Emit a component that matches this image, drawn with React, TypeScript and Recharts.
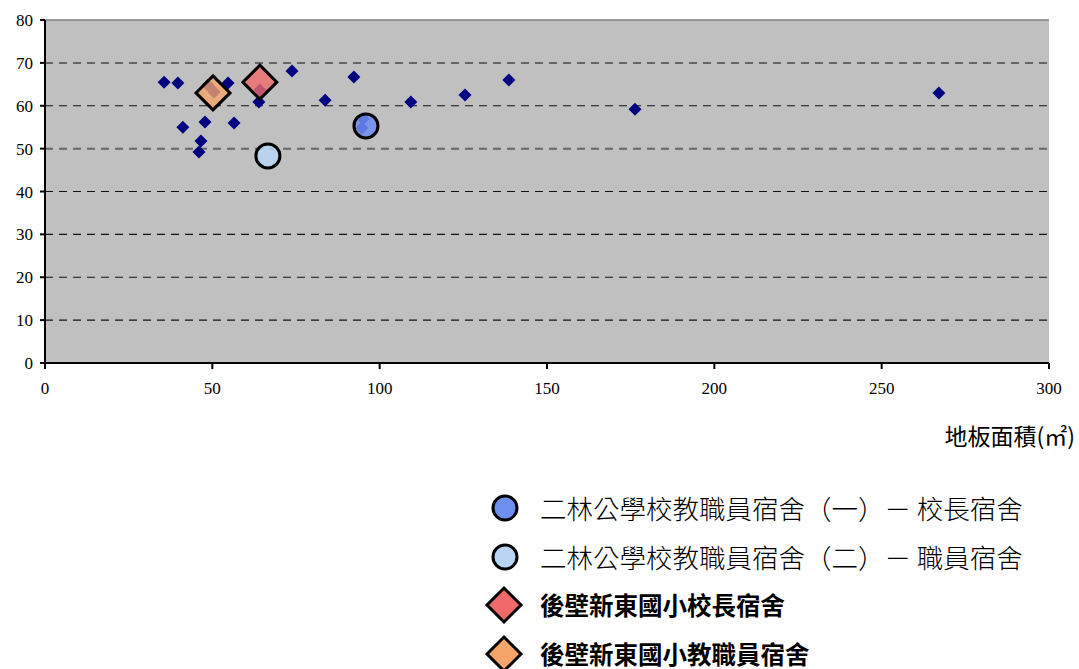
import { ScatterChart, Scatter, XAxis, YAxis, ReferenceLine, ReferenceArea } from 'recharts'

// 其他宿舍樣本 (floor area, value)
const otherArea = [35.6, 39.7, 41.2, 46.0, 46.6, 47.8, 48.7, 50.5, 54.7, 56.5, 63.9, 64.2, 73.8, 83.7, 92.3, 94.7, 95.0, 109.3, 125.5, 138.6, 176.3, 267.1]
const otherValue = [65.5, 65.3, 55.0, 49.2, 51.8, 56.2, 64.8, 63.2, 65.3, 56.0, 60.9, 63.7, 68.1, 61.3, 66.7, 54.8, 56.9, 60.9, 62.5, 66.0, 59.2, 63.0]

const erlin1 = [{ x: 95.9, y: 55.3 }]
const erlin2 = [{ x: 66.6, y: 48.3 }]
const houbiPrincipal = [{ x: 64.2, y: 65.5 }]
const houbiStaff = [{ x: 50.2, y: 63.0 }]

const xTicks = [0, 50, 100, 150, 200, 250, 300]
const yTicks = [0, 10, 20, 30, 40, 50, 60, 70, 80]
const gridValues = [10, 20, 30, 40, 50, 60, 70]

const others = otherArea.map((x, i) => ({ x, y: otherValue[i] }))

const legendItems = [
  { name: '二林公學校教職員宿舍（一）－ 校長宿舍', kind: 'circle', fill: '#6E8EF0', bold: false },
  { name: '二林公學校教職員宿舍（二）－ 職員宿舍', kind: 'circle', fill: '#B8D6F4', bold: false },
  { name: '後壁新東國小校長宿舍', kind: 'diamond', fill: '#F06A6A', bold: true },
  { name: '後壁新東國小教職員宿舍', kind: 'diamond', fill: '#F5A46A', bold: true },
]

const serif = '"Liberation Serif", "DejaVu Serif", serif'
const cjk = '"Noto Sans CJK TC", "Noto Sans CJK SC", sans-serif'

function diamond(cx: number, cy: number, r: number) {
  return `M${cx},${cy - r} L${cx + r},${cy} L${cx},${cy + r} L${cx - r},${cy} Z`
}

const smallDiamond = (p: any) => <path d={diamond(p.cx, p.cy, 6.5)} fill="#000080" />

const bigDiamond = (fill: string) => (p: any) => (
  <path d={diamond(p.cx, p.cy, 17)} fill={fill} fillOpacity={0.8} stroke="#000" strokeWidth={3} strokeLinejoin="miter" />
)

const bigCircle = (fill: string) => (p: any) => (
  <circle cx={p.cx} cy={p.cy} r={12} fill={fill} fillOpacity={0.85} stroke="#000" strokeWidth={3} />
)

function LegendBox() {
  return (
    <div style={{ position: 'absolute', left: 482, top: 484 }}>
      {legendItems.map((item) => (
        <div key={item.name} style={{ display: 'flex', alignItems: 'center', height: 48.5 }}>
          <svg width={44} height={44} style={{ marginRight: 14 }}>
            {item.kind === 'circle' ? (
              <circle cx={23} cy={22} r={12} fill={item.fill} stroke="#000" strokeWidth={3} />
            ) : (
              <path d={diamond(22, 22, 17)} fill={item.fill} stroke="#000" strokeWidth={3} />
            )}
          </svg>
          <span style={{ fontFamily: cjk, fontSize: item.bold ? 24.5 : 26.5, lineHeight: 1, fontWeight: item.bold ? 700 : 300, color: '#000', whiteSpace: 'nowrap' }}>
            {item.name}
          </span>
        </div>
      ))}
    </div>
  )
}

export default function App() {
  return (
    <div style={{ position: 'absolute', left: 0, top: 0, width: 1079, height: 669, background: '#fff', overflow: 'hidden' }}>
      <ScatterChart width={1079} height={669} margin={{ top: 20, right: 30, left: 0, bottom: 0 }}>
        <XAxis
          type="number"
          dataKey="x"
          domain={[0, 300]}
          ticks={xTicks}
          height={306}
          stroke="#000"
          strokeWidth={2}
          tickSize={6}
          tickMargin={13}
          tick={{ fill: '#000', fontSize: 17, fontFamily: serif }}
          label={({ viewBox }: any) => (
            <text x={viewBox.x + viewBox.width + 26} y={viewBox.y + 82} textAnchor="end" fontSize={23} fontFamily={cjk} fill="#000">
              地板面積(㎡)
            </text>
          )}
        />
        <YAxis
          type="number"
          dataKey="y"
          domain={[0, 80]}
          ticks={yTicks}
          width={45}
          stroke="#000"
          strokeWidth={2}
          tickSize={5}
          tickMargin={7}
          tick={{ fill: '#000', fontSize: 17, fontFamily: serif }}
        />
        <ReferenceArea x1={0} x2={300} y1={0} y2={80} fill="#C0C0C0" fillOpacity={1} stroke="none" />
        {gridValues.map((v) => (
          <ReferenceLine key={v} y={v} stroke={v === 50 || v === 70 ? '#666' : '#111'} strokeWidth={v === 50 || v === 70 ? 2 : 1.2} strokeDasharray="8 6" />
        ))}
        <ReferenceLine y={80} stroke="#808080" strokeWidth={1.5} />
        <Scatter name="其他" data={others} shape={smallDiamond} isAnimationActive={false} />
        <Scatter name="二林公學校教職員宿舍（一）－ 校長宿舍" data={erlin1} shape={bigCircle('#6E8EF0')} isAnimationActive={false} />
        <Scatter name="二林公學校教職員宿舍（二）－ 職員宿舍" data={erlin2} shape={bigCircle('#B8D6F4')} isAnimationActive={false} />
        <Scatter name="後壁新東國小校長宿舍" data={houbiPrincipal} shape={bigDiamond('#F06A6A')} isAnimationActive={false} />
        <Scatter name="後壁新東國小教職員宿舍" data={houbiStaff} shape={bigDiamond('#F5A46A')} isAnimationActive={false} />
      </ScatterChart>
      <LegendBox />
    </div>
  )
}
